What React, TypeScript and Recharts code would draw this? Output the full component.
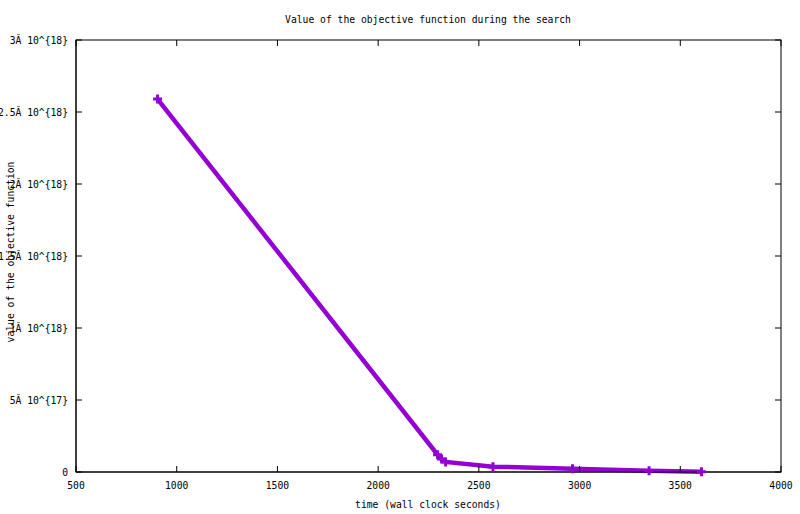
import React from "react";
import { Line, LineChart, XAxis, YAxis } from "recharts";

// wall clock seconds vs objective value
const times = [905, 2295, 2315, 2335, 2570, 2965, 3345, 3605];
const objective = [2.59e18, 1.2e17, 9e16, 7e16, 3.7e16, 2.3e16, 9e15, 2e15];

const xTicks = [500, 1000, 1500, 2000, 2500, 3000, 3500, 4000];
const yTicks = [0, 5e17, 1e18, 1.5e18, 2e18, 2.5e18, 3e18];
const yTickLabels = ["0", "5Ă 10^{17}", "1Ă 10^{18}", "1.5Ă 10^{18}", "2Ă 10^{18}", "2.5Ă 10^{18}", "3Ă 10^{18}"];

const data = times.map((t, i) => ({ t, v: objective[i] }));

const W = 800;
const H = 514;
const PLOT = { left: 76, right: 781, top: 40, bottom: 472 };
const FONT = "'DejaVu Sans Mono', 'Liberation Mono', monospace";
const FS = 9.7;
const PURPLE = "#9400d3";

function XTick(props: any) {
  const { x, payload } = props;
  return (
    <g>
      <line x1={x} x2={x} y1={PLOT.bottom} y2={PLOT.bottom - 6} stroke="#000" />
      <line x1={x} x2={x} y1={PLOT.top} y2={PLOT.top + 6} stroke="#000" />
      <text x={x} y={489} textAnchor="middle" fontSize={FS} fontFamily={FONT} fill="#000">
        {payload.value}
      </text>
    </g>
  );
}

function YTick(props: any) {
  const { y, payload } = props;
  const label = yTickLabels[yTicks.indexOf(payload.value)] ?? String(payload.value);
  return (
    <g>
      <line x1={PLOT.left} x2={PLOT.left + 6} y1={y} y2={y} stroke="#000" />
      <line x1={PLOT.right} x2={PLOT.right - 6} y1={y} y2={y} stroke="#000" />
      <text x={68} y={y + 3.5} textAnchor="end" fontSize={FS} fontFamily={FONT} fill="#000">
        {label}
      </text>
    </g>
  );
}

function Cross(props: any) {
  const { cx, cy, index } = props;
  if (cx == null || cy == null) return <g key={index} />;
  const s = 4.5;
  return (
    <path
      key={index}
      d={`M${cx - s},${cy}H${cx + s}M${cx},${cy - s}V${cy + s}`}
      stroke={PURPLE}
      strokeWidth={3}
      fill="none"
    />
  );
}

export default function App() {
  return (
    <div style={{ position: "absolute", left: 0, top: 0, width: W, height: H, background: "#fff" }}>
      <LineChart
        width={W}
        height={H}
        data={data}
        margin={{ top: PLOT.top, right: W - PLOT.right, bottom: 0, left: 0 }}
      >
        <rect
          x={PLOT.left}
          y={PLOT.top}
          width={PLOT.right - PLOT.left}
          height={PLOT.bottom - PLOT.top}
          fill="none"
          stroke="#000"
        />
        <XAxis
          dataKey="t"
          type="number"
          domain={[500, 4000]}
          ticks={xTicks}
          interval={0}
          height={H - PLOT.bottom}
          tickLine={false}
          axisLine={{ stroke: "#000" }}
          tick={<XTick />}
        />
        <YAxis
          type="number"
          domain={[0, 3e18]}
          ticks={yTicks}
          interval={0}
          width={PLOT.left}
          tickLine={false}
          axisLine={{ stroke: "#000" }}
          tick={<YTick />}
        />
        <Line
          dataKey="v"
          type="linear"
          stroke={PURPLE}
          strokeWidth={4.5}
          dot={<Cross />}
          activeDot={false}
          isAnimationActive={false}
        />
        <text x={428} y={23} textAnchor="middle" fontSize={FS} fontFamily={FONT} fill="#000">
          Value of the objective function during the search
        </text>
        <text x={428} y={508} textAnchor="middle" fontSize={FS} fontFamily={FONT} fill="#000">
          time (wall clock seconds)
        </text>
        <text
          x={14}
          y={252}
          textAnchor="middle"
          fontSize={FS}
          fontFamily={FONT}
          fill="#000"
          transform="rotate(-90 14 252)"
        >
          value of the objective function
        </text>
      </LineChart>
    </div>
  );
}
